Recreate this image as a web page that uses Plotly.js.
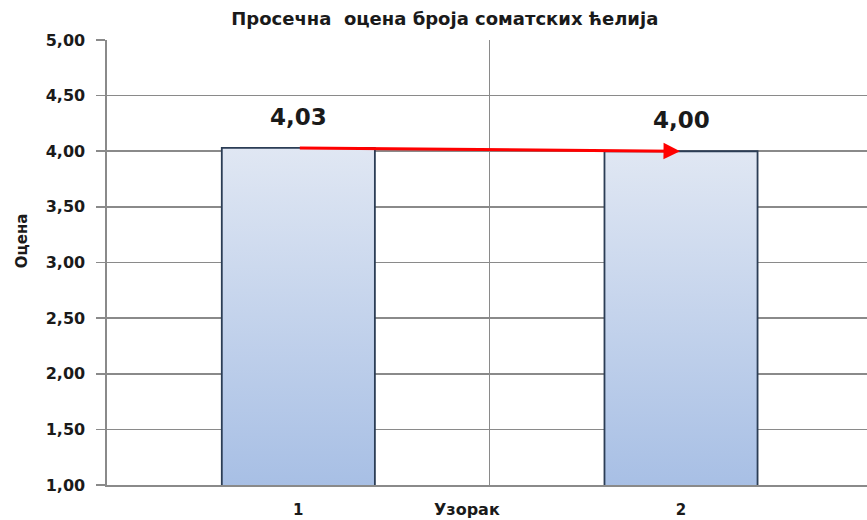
<!DOCTYPE html>
<html>
<head>
<meta charset="utf-8">
<script src="https://cdn.plot.ly/plotly-3.0.1.min.js"></script>
<style>
  html, body { margin: 0; padding: 0; background: #fff; overflow: hidden; }
  #chart { width: 867px; height: 520px; }
</style>
</head>
<body>
<div id="chart"></div>
<script>
// ---- data ----
const categories = ['1', '2'];
const values = [4.03, 4.00];
const valueLabels = ['4,03', '4,00'];
const yTickVals = [1, 1.5, 2, 2.5, 3, 3.5, 4, 4.5, 5];
const chartTitle = 'Просечна  оцена броја соматских ћелија';
const xTitle = 'Узорак';
const yTitle = 'Оцена';

const FONT = 'DejaVu Sans, Verdana, sans-serif';
const GRID = '#8a8a8a';

const trace = {
  type: 'bar',
  x: categories,
  y: values,
  width: 0.4,
  marker: { color: '#b9c9e8', line: { color: '#2b3d55', width: 1.8 } },
  hoverinfo: 'none'
};

const annotations = [];
categories.forEach((c, i) => {
  annotations.push({
    x: i, y: values[i], xref: 'x', yref: 'y',
    text: '<b>' + valueLabels[i] + '</b>',
    showarrow: false, yanchor: 'middle', yshift: 31,
    font: { family: FONT, size: 23, color: '#1a1a1a' }
  });
});
// red arrow from first bar top to second bar top
annotations.push({
  x: 1, y: values[1], xref: 'x', yref: 'y',
  ax: 0, ay: values[0], axref: 'x', ayref: 'y',
  text: '', showarrow: true,
  arrowhead: 2, arrowsize: 1.1, arrowwidth: 3, arrowcolor: '#ff0000',
  standoff: 1, startstandoff: 0
});
// y axis title
annotations.push({
  xref: 'paper', yref: 'paper', x: -0.112, y: 0.55,
  xanchor: 'center', yanchor: 'middle', textangle: -90,
  text: '<b>' + yTitle + '</b>', showarrow: false,
  font: { family: FONT, size: 15, color: '#1a1a1a' }
});
// x axis title
annotations.push({
  xref: 'paper', yref: 'paper', x: 0.474, y: 0, yshift: -24,
  xanchor: 'center', yanchor: 'middle',
  text: '<b>' + xTitle + '</b>', showarrow: false,
  font: { family: FONT, size: 16, color: '#1a1a1a' }
});

const layout = {
  width: 867, height: 520,
  margin: { l: 107, r: 0, t: 40, b: 35 },
  paper_bgcolor: '#ffffff', plot_bgcolor: '#ffffff',
  separators: ',.',
  showlegend: false,
  title: {
    text: '<b>' + chartTitle + '</b>',
    x: 0.513, xanchor: 'center', xref: 'container',
    y: 0.965, yanchor: 'middle', yref: 'container',
    font: { family: FONT, size: 18, color: '#1a1a1a' }
  },
  xaxis: {
    type: 'category',
    range: [-0.5, 1.486],
    tickson: 'boundaries',
    showgrid: true, gridcolor: GRID, gridwidth: 1.6,
    showline: true, linecolor: GRID, linewidth: 1.6,
    ticks: 'outside', ticklen: 14, tickcolor: 'rgba(0,0,0,0)',
    ticklabelstandoff: 10,
    tickfont: { family: FONT, size: 15, color: '#1a1a1a', weight: 'bold' },
    zeroline: false, fixedrange: true
  },
  yaxis: {
    range: [1, 5],
    tickvals: yTickVals,
    tickformat: '.2f',
    showgrid: true, gridcolor: GRID, gridwidth: 1.6,
    showline: true, linecolor: GRID, linewidth: 1.6,
    ticks: 'outside', ticklen: 9, tickcolor: GRID, tickwidth: 1.6,
    ticklabelstandoff: 8,
    tickfont: { family: FONT, size: 16, color: '#1a1a1a', weight: 'bold' },
    zeroline: false, fixedrange: true
  },
  annotations: annotations
};

Plotly.newPlot('chart', [trace], layout, { displayModeBar: false, staticPlot: true }).then(gd => {
  const svgNS = 'http://www.w3.org/2000/svg';
  const svg = gd.querySelector('svg.main-svg');
  let defs = svg.querySelector('defs');
  if (!defs) { defs = document.createElementNS(svgNS, 'defs'); svg.insertBefore(defs, svg.firstChild); }
  const grad = document.createElementNS(svgNS, 'linearGradient');
  grad.setAttribute('id', 'barGrad');
  grad.setAttribute('x1', '0'); grad.setAttribute('y1', '0');
  grad.setAttribute('x2', '0'); grad.setAttribute('y2', '1');
  [['0', '#e0e7f3'], ['1', '#95b2e0']].forEach(([o, c]) => {
    const s = document.createElementNS(svgNS, 'stop');
    s.setAttribute('offset', o); s.setAttribute('stop-color', c);
    grad.appendChild(s);
  });
  defs.appendChild(grad);
  gd.querySelectorAll('.barlayer .point path').forEach(p => {
    p.style.fill = 'url(#barGrad)';
  });
});
</script>
</body>
</html>
